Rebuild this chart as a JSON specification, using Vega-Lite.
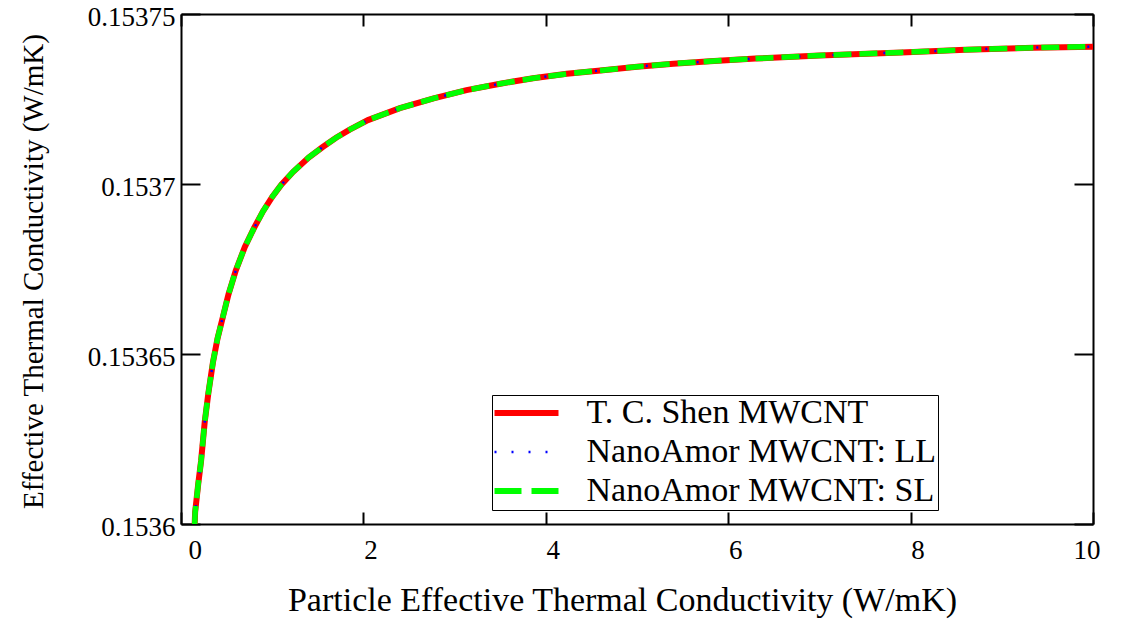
{
  "$schema": "https://vega.github.io/schema/vega-lite/v6.json",
  "width": 912,
  "height": 510,
  "autosize": {"type": "none"},
  "padding": {"left": 181, "top": 14, "right": 39, "bottom": 95},
  "background": "white",
  "config": {
    "view": {"stroke": null},
    "font": "Liberation Serif",
    "axis": {
      "domainColor": "black",
      "domainWidth": 2,
      "tickColor": "black",
      "tickWidth": 2,
      "grid": false,
      "labelFont": "Liberation Serif",
      "labelColor": "black",
      "labelFontSize": 27,
      "titleFont": "Liberation Serif",
      "titleColor": "black",
      "titleFontWeight": "normal"
    }
  },
  "data": {
    "values": [
      {"k": 0.150, "shen": 0.15360000, "ll": 0.15360000, "sl": 0.15360000},
      {"k": 0.155, "shen": 0.15360350, "ll": 0.15360350, "sl": 0.15360350},
      {"k": 0.19, "shen": 0.15361200, "ll": 0.15361200, "sl": 0.15361200},
      {"k": 0.22, "shen": 0.15361850, "ll": 0.15361850, "sl": 0.15361850},
      {"k": 0.26, "shen": 0.15363000, "ll": 0.15363000, "sl": 0.15363000},
      {"k": 0.30, "shen": 0.15363850, "ll": 0.15363850, "sl": 0.15363850},
      {"k": 0.35, "shen": 0.15364750, "ll": 0.15364750, "sl": 0.15364750},
      {"k": 0.40, "shen": 0.15365450, "ll": 0.15365450, "sl": 0.15365450},
      {"k": 0.46, "shen": 0.15366100, "ll": 0.15366100, "sl": 0.15366100},
      {"k": 0.52, "shen": 0.15366750, "ll": 0.15366750, "sl": 0.15366750},
      {"k": 0.60, "shen": 0.15367450, "ll": 0.15367450, "sl": 0.15367450},
      {"k": 0.70, "shen": 0.15368150, "ll": 0.15368150, "sl": 0.15368150},
      {"k": 0.80, "shen": 0.15368700, "ll": 0.15368700, "sl": 0.15368700},
      {"k": 0.90, "shen": 0.15369200, "ll": 0.15369200, "sl": 0.15369200},
      {"k": 1.00, "shen": 0.15369620, "ll": 0.15369620, "sl": 0.15369620},
      {"k": 1.10, "shen": 0.15369980, "ll": 0.15369980, "sl": 0.15369980},
      {"k": 1.23, "shen": 0.15370360, "ll": 0.15370360, "sl": 0.15370360},
      {"k": 1.40, "shen": 0.15370780, "ll": 0.15370780, "sl": 0.15370780},
      {"k": 1.55, "shen": 0.15371080, "ll": 0.15371080, "sl": 0.15371080},
      {"k": 1.70, "shen": 0.15371360, "ll": 0.15371360, "sl": 0.15371360},
      {"k": 1.85, "shen": 0.15371600, "ll": 0.15371600, "sl": 0.15371600},
      {"k": 2.05, "shen": 0.15371880, "ll": 0.15371880, "sl": 0.15371880},
      {"k": 2.40, "shen": 0.15372230, "ll": 0.15372230, "sl": 0.15372230},
      {"k": 2.77, "shen": 0.15372520, "ll": 0.15372520, "sl": 0.15372520},
      {"k": 3.13, "shen": 0.15372760, "ll": 0.15372760, "sl": 0.15372760},
      {"k": 3.50, "shen": 0.15372950, "ll": 0.15372950, "sl": 0.15372950},
      {"k": 3.86, "shen": 0.15373110, "ll": 0.15373110, "sl": 0.15373110},
      {"k": 4.23, "shen": 0.15373240, "ll": 0.15373240, "sl": 0.15373240},
      {"k": 4.60, "shen": 0.15373340, "ll": 0.15373340, "sl": 0.15373340},
      {"k": 5.00, "shen": 0.15373450, "ll": 0.15373450, "sl": 0.15373450},
      {"k": 5.40, "shen": 0.15373540, "ll": 0.15373540, "sl": 0.15373540},
      {"k": 5.80, "shen": 0.15373610, "ll": 0.15373610, "sl": 0.15373610},
      {"k": 6.30, "shen": 0.15373690, "ll": 0.15373690, "sl": 0.15373690},
      {"k": 7.00, "shen": 0.15373780, "ll": 0.15373780, "sl": 0.15373780},
      {"k": 7.90, "shen": 0.15373870, "ll": 0.15373870, "sl": 0.15373870},
      {"k": 8.60, "shen": 0.15373950, "ll": 0.15373950, "sl": 0.15373950},
      {"k": 9.35, "shen": 0.15374010, "ll": 0.15374010, "sl": 0.15374010},
      {"k": 10.0, "shen": 0.15374040, "ll": 0.15374040, "sl": 0.15374040}
    ]
  },
  "layer": [
    {
      "mark": {"type": "line", "strokeWidth": 6, "clip": true},
      "encoding": {
        "x": {
          "field": "k", "type": "quantitative",
          "scale": {"domain": [0, 10], "nice": false, "zero": false},
          "axis": {
            "orient": "bottom", "values": [0, 2, 4, 6, 8, 10], "format": "d",
            "tickSize": -12, "labelPadding": 25, "labelOffset": 7,
            "title": "Particle Effective Thermal Conductivity  (W/mK)",
            "titleFontSize": 34, "titleX": 441, "titleY": 86, "titleBaseline": "alphabetic"
          }
        },
        "y": {
          "field": "shen", "type": "quantitative",
          "scale": {"domain": [0.1536, 0.15375], "nice": false, "zero": false},
          "axis": {
            "orient": "left", "values": [0.1536, 0.15365, 0.1537, 0.15375], "format": "~g",
            "tickSize": -19, "labelPadding": 25, "labelOffset": 3,
            "title": "Effective Thermal Conductivity (W/mK)",
            "titleFontSize": 29, "titleX": -139, "titleY": 257, "titleAngle": -90,
            "titleBaseline": "alphabetic", "titleAlign": "center"
          }
        },
        "color": {
          "datum": "T. C. Shen MWCNT", "type": "nominal",
          "scale": {
            "domain": ["T. C. Shen MWCNT", "NanoAmor MWCNT: LL", "NanoAmor MWCNT: SL"],
            "range": ["#ff0000", "#0000ff", "#00ff00"]
          },
          "legend": {
            "title": null, "orient": "none", "legendX": 311, "legendY": 381,
            "symbolType": "stroke", "symbolSize": 4096, "symbolStrokeWidth": 5,
            "symbolOffset": 16,
            "clipHeight": 33, "rowPadding": 4, "padding": 1.5,
            "labelFont": "Liberation Serif", "labelFontSize": 34, "labelColor": "black",
            "labelOffset": 43, "labelLimit": 0,
            "strokeColor": "black", "fillColor": "white",
            "encode": {
              "symbols": {
                "update": {
                  "strokeWidth": {"signal": "datum.value === 'NanoAmor MWCNT: LL' ? 2.5 : 6"},
                  "strokeDash": {"signal": "datum.value === 'NanoAmor MWCNT: LL' ? [2, 15] : datum.value === 'NanoAmor MWCNT: SL' ? [27, 10] : [1, 0]"}
                }
              }
            }
          }
        }
      }
    },
    {
      "mark": {"type": "line", "strokeWidth": 2.5, "strokeDash": [2, 15], "clip": true},
      "encoding": {
        "x": {
          "field": "k", "type": "quantitative",
          "axis": {"orient": "top", "values": [0, 2, 4, 6, 8, 10], "labels": false, "tickSize": -12, "title": null}
        },
        "y": {
          "field": "ll", "type": "quantitative",
          "axis": {"orient": "right", "values": [0.1536, 0.15365, 0.1537, 0.15375], "labels": false, "tickSize": -19, "title": null}
        },
        "color": {"datum": "NanoAmor MWCNT: LL", "type": "nominal"}
      }
    },
    {
      "mark": {"type": "line", "strokeWidth": 5.5, "strokeDash": [18, 8], "clip": true},
      "encoding": {
        "x": {"field": "k", "type": "quantitative", "axis": null},
        "y": {"field": "sl", "type": "quantitative", "axis": null},
        "color": {"datum": "NanoAmor MWCNT: SL", "type": "nominal"}
      }
    }
  ],
  "resolve": {"axis": {"x": "independent", "y": "independent"}}
}
